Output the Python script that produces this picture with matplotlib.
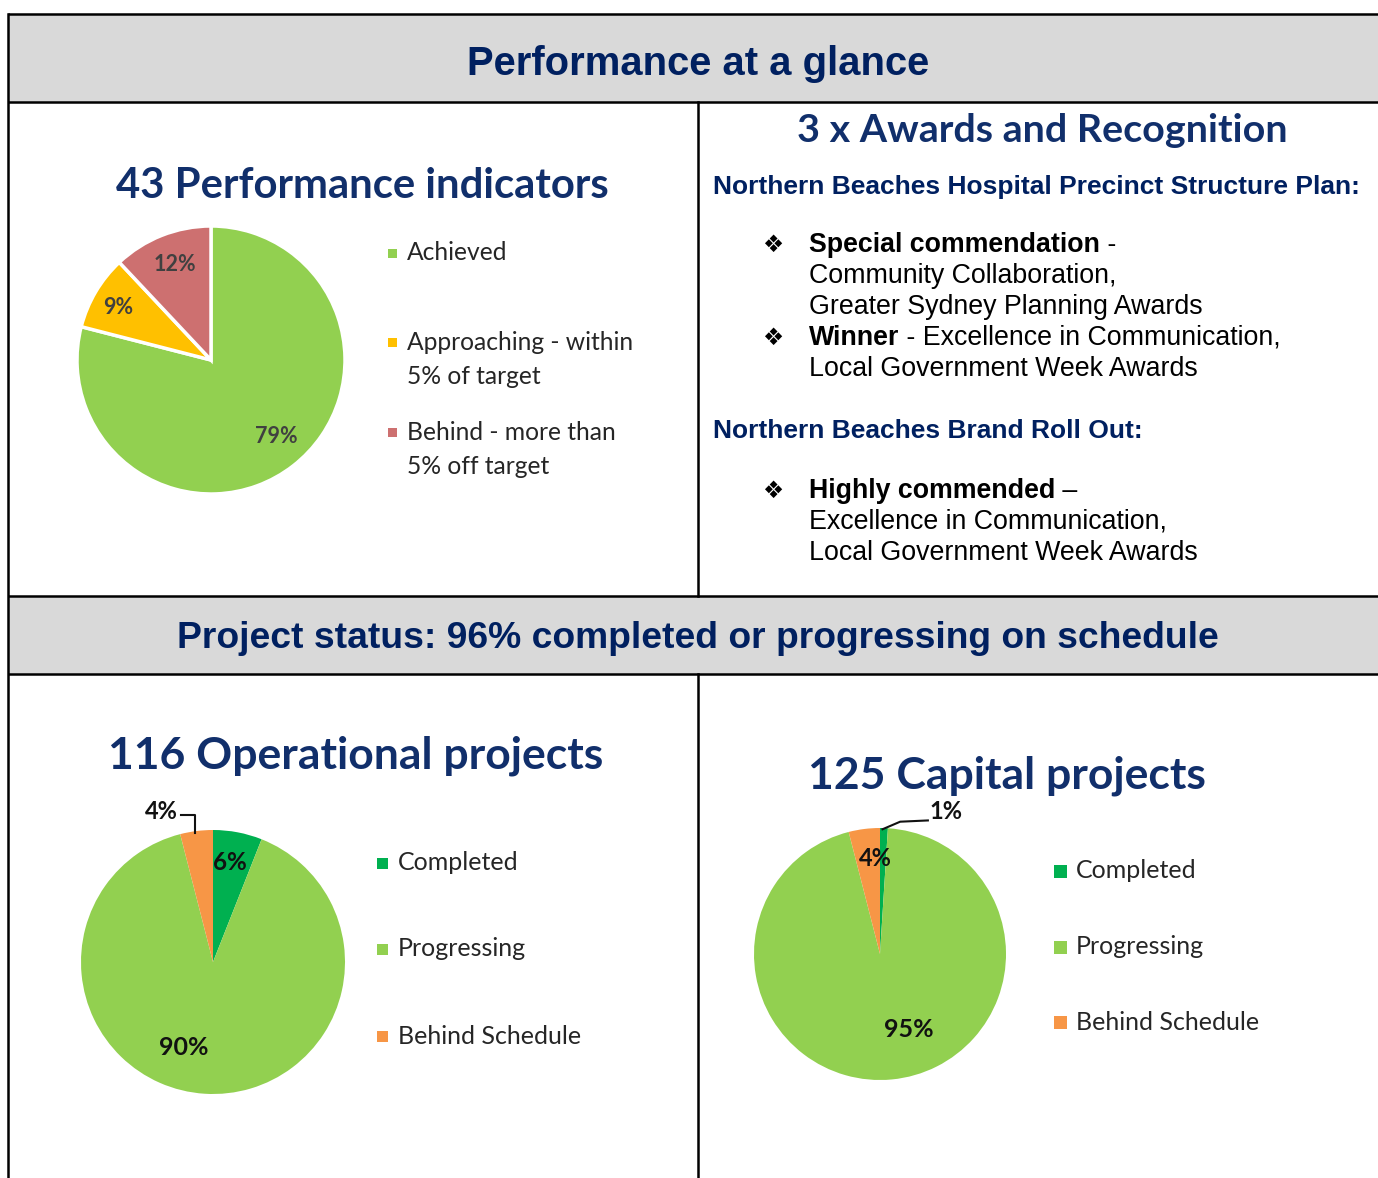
import matplotlib
matplotlib.use("Agg")
import matplotlib.pyplot as plt
from matplotlib.patches import Rectangle

# ---------------- data ----------------
kpi_title = "43 Performance indicators"
kpi_labels = [["Achieved"], ["Approaching - within", "5% of target"], ["Behind - more than", "5% off target"]]
kpi_values = [79, 9, 12]
kpi_colors = ["#92d050", "#ffc000", "#cd7070"]

op_title = "116 Operational projects"
proj_labels = [["Completed"], ["Progressing"], ["Behind Schedule"]]
op_values = [6, 90, 4]
proj_colors = ["#00b050", "#92d050", "#f79646"]

cap_title = "125 Capital projects"
cap_values = [1, 95, 4]

header_top = "Performance at a glance"
header_mid = "Project status: 96% completed or progressing on schedule"
awards_title = "3 x Awards and Recognition"
award_groups = [
    ("Northern Beaches Hospital Precinct Structure Plan:", [
        ("Special commendation", " -", ["Community Collaboration,", "Greater Sydney Planning Awards"]),
        ("Winner", " - Excellence in Communication,", ["Local Government Week Awards"]),
    ]),
    ("Northern Beaches Brand Roll Out:", [
        ("Highly commended", " \u2013", ["Excellence in Communication,", "Local Government Week Awards"]),
    ]),
]

# ---------------- layout ----------------
W, H = 1378, 1178
NAVY = "#002060"
TNAVY = "#112f6b"
GRAY = "#d9d9d9"
ARIAL = ["Liberation Sans", "DejaVu Sans"]
CAL = ["Lato", "DejaVu Sans"]

fig = plt.figure(figsize=(W / 100, H / 100), dpi=100)
bg = fig.add_axes([0, 0, 1, 1])
bg.set_xlim(0, W)
bg.set_ylim(H, 0)
bg.axis("off")

# bands & borders
bg.add_patch(Rectangle((8, 14), W - 8, 88, facecolor=GRAY, edgecolor="none"))
bg.add_patch(Rectangle((8, 596), W - 8, 78, facecolor=GRAY, edgecolor="none"))
lw = 1.8
for y in (14, 102, 596, 674):
    bg.plot([8, W], [y, y], color="black", lw=lw, solid_capstyle="butt")
bg.plot([8, 8], [14, H], color="black", lw=lw)
bg.plot([698, 698], [102, 596], color="black", lw=lw)
bg.plot([698, 698], [674, H], color="black", lw=lw)

bg.text(698, 64, header_top, ha="center", va="center", fontsize=28.8,
        fontweight="bold", family=ARIAL, color=NAVY)
bg.text(698, 639, header_mid, ha="center", va="center", fontsize=26.8,
        fontweight="bold", family=ARIAL, color=NAVY)

# ---------------- awards text ----------------
bg.text(1042, 131, awards_title, ha="center", va="center", fontsize=28.4,
        fontweight="bold", family=CAL, color=TNAVY)

fig.canvas.draw()
renderer = fig.canvas.get_renderer()
inv = bg.transData.inverted()

group_y = [187, 431]
item_y = [[245, 338], [491]]
line_h = 31
for (gtitle, items), gy, iys in zip(award_groups, group_y, item_y):
    bg.text(713, gy, gtitle, ha="left", va="center", fontsize=19,
            fontweight="bold", family=ARIAL, color=NAVY)
    for (bold, rest, more), iy in zip(items, iys):
        bg.text(773, iy, "\u2756", ha="center", va="center", fontsize=17,
                family=["DejaVu Sans"], color="black")
        t = bg.text(809, iy + 7, bold, ha="left", va="baseline", fontsize=19.3,
                    fontweight="bold", family=ARIAL, color="black")
        bb = t.get_window_extent(renderer)
        x1 = inv.transform((bb.x1, bb.y0))[0]
        bg.text(x1, iy + 7, rest, ha="left", va="baseline", fontsize=19.3,
                family=ARIAL, color="black")
        for k, line in enumerate(more):
            bg.text(809, iy + 7 + line_h * (k + 1), line, ha="left", va="baseline",
                    fontsize=19.3, family=ARIAL, color="black")


# ---------------- pies ----------------
def pie_axes(cx, cy, r, pad=1.6):
    w = 2 * r * pad
    ax = fig.add_axes([(cx - r * pad) / W, 1 - (cy + r * pad) / H, w / W, w / H])
    return ax, pad


def draw_pie(cx, cy, r, values, colors, edge, label_pos, label_color, label_sizes):
    ax, pad = pie_axes(cx, cy, r)
    ax.pie(values, colors=colors, startangle=90, counterclock=False,
           wedgeprops=dict(edgecolor="white", linewidth=edge))
    ax.set_xlim(-pad, pad)
    ax.set_ylim(-pad, pad)
    ax.set_aspect("equal")
    ax.axis("off")
    for v, (dx, dy), fs in zip(values, label_pos, label_sizes):
        ax.text(dx, dy, f"{v}%", ha="center", va="center", fontsize=fs,
                fontweight="bold", family=CAL, color=label_color)
    return ax


def legend(x, ys, labels, colors, size, fs, color="#262626", gap=34, tx=19):
    for y, lines, c in zip(ys, labels, colors):
        bg.add_patch(Rectangle((x, y - size / 2), size, size, facecolor=c, edgecolor="none"))
        for k, line in enumerate(lines):
            bg.text(x + tx, y + gap * k, line, ha="left", va="center", fontsize=fs,
                    family=CAL, color=color)


# KPI pie
bg.text(362, 186, kpi_title, ha="center", va="center", fontsize=30.2,
        fontweight="bold", family=CAL, color=TNAVY)
draw_pie(211, 360, 134, kpi_values, kpi_colors, 2.5,
         [(0.49, -0.57), (-0.69, 0.39), (-0.27, 0.71)], "#404040", [15.5, 15.5, 15.5])
legend(388, [253, 342, 432], kpi_labels, kpi_colors, 9, 17.7, tx=19)

# Operational pie
bg.text(356, 756, op_title, ha="center", va="center", fontsize=32,
        fontweight="bold", family=CAL, color=TNAVY)
ax2 = draw_pie(213, 962, 132, op_values, proj_colors, 0,
               [(0.13, 0.75), (-0.22, -0.65), (-0.39, 1.14)], "#111111", [17.5, 18, 17])
ax2.plot([-0.24, -0.14, -0.14], [1.11, 1.11, 0.98], color="#111111", lw=1.5)
legend(377, [863, 949, 1036], proj_labels, proj_colors, 11, 18, tx=21)

# Capital pie
bg.text(1007, 776, cap_title, ha="center", va="center", fontsize=32,
        fontweight="bold", family=CAL, color=TNAVY)
ax3 = draw_pie(880, 954, 126, cap_values, proj_colors, 0,
               [(0.52, 1.13), (0.23, -0.60), (-0.04, 0.76)], "#111111", [17, 18, 17])
ax3.plot([0.38, 0.16, 0.02], [1.06, 1.05, 0.99], color="#111111", lw=1.5)
legend(1054, [871, 947, 1022], proj_labels, proj_colors, 13, 18, tx=22)

fig.savefig("out.png", dpi=100)
